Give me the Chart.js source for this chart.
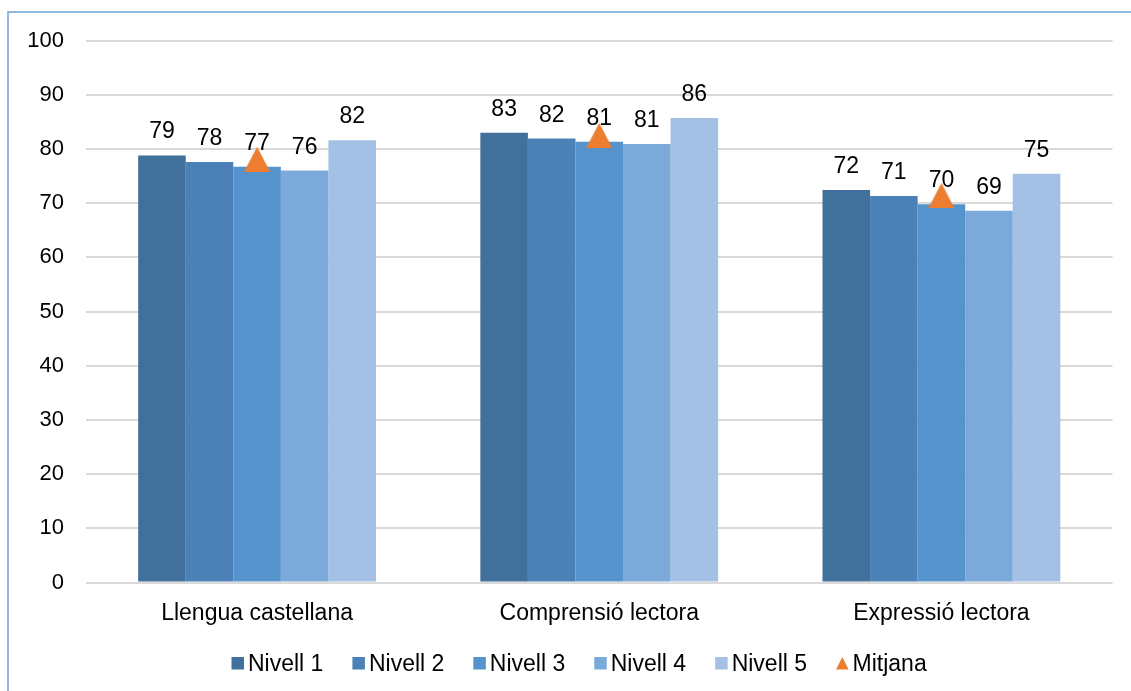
<!DOCTYPE html>
<html>
<head>
<meta charset="utf-8">
<script src="https://cdn.jsdelivr.net/npm/chart.js@4/dist/chart.umd.min.js"></script>
<style>
  html, body { margin: 0; padding: 0; background: #ffffff; overflow: hidden; }
  canvas { display: block; }
</style>
</head>
<body>
<canvas id="chart" width="1131" height="691"></canvas>
<script>
// Categories (competències avaluades)
const categories = ['Llengua castellana', 'Comprensió lectora', 'Expressió lectora'];

// Puntuació mitjana per nivell
const nivell1 = [78.8, 83.0, 72.4];
const nivell2 = [77.6, 81.9, 71.3];
const nivell3 = [76.7, 81.3, 69.8];
const nivell4 = [76.0, 80.9, 68.6];
const nivell5 = [81.6, 85.7, 75.4];

// Mitjana global de cada competència
const mitjana = [78.1, 82.5, 71.4];

// Eix Y
const yMin = 0;
const yMax = 100;
const yStep = 10;

const seriesNames = ['Nivell 1', 'Nivell 2', 'Nivell 3', 'Nivell 4', 'Nivell 5', 'Mitjana'];
const barColors = ['#41709C', '#4C81B7', '#5593CC', '#7BA9DA', '#A4C0E4'];
const markerColor = '#ED7D31';
const FONT = '"Liberation Sans", Arial, Helvetica, sans-serif';

// Triangle marker whose bounding box is centred on the data point
function triangleCanvas(w, h, color) {
  const c = document.createElement('canvas');
  c.width = w; c.height = h;
  const g = c.getContext('2d');
  g.fillStyle = color;
  g.beginPath();
  g.moveTo(w / 2, 0);
  g.lineTo(w, h);
  g.lineTo(0, h);
  g.closePath();
  g.fill();
  return c;
}
const bigTriangle = triangleCanvas(26, 25, markerColor);

// Frame around the figure (only its top and left edges fall on the canvas)
const framePlugin = {
  id: 'frame',
  beforeDraw(chart) {
    const ctx = chart.ctx;
    ctx.save();
    ctx.strokeStyle = '#6FA3D9';
    ctx.lineWidth = 1.5;
    ctx.strokeRect(8, 12, 3000, 3000);
    ctx.restore();
  }
};

// Value printed above every bar
const valueLabels = {
  id: 'valueLabels',
  afterDatasetDraw(chart, args) {
    const ds = chart.data.datasets[args.index];
    if (ds.type !== 'bar') return;
    const ctx = chart.ctx;
    ctx.save();
    ctx.font = '23px ' + FONT;
    ctx.fillStyle = '#000000';
    ctx.textAlign = 'center';
    ctx.textBaseline = 'alphabetic';
    args.meta.data.forEach((bar, j) => {
      ctx.fillText(String(Math.round(ds.data[j])), bar.x, bar.y - 17);
    });
    ctx.restore();
  }
};

// Legend row under the axis
const legendRow = {
  id: 'legendRow',
  afterDraw(chart) {
    const ctx = chart.ctx;
    const size = 12.5, top = 657, baseline = 670.5;
    let x = 231.5;
    ctx.save();
    ctx.font = '23px ' + FONT;
    ctx.textAlign = 'left';
    ctx.textBaseline = 'alphabetic';
    chart.data.datasets.forEach((ds) => {
      ctx.fillStyle = ds.backgroundColor;
      if (ds.type === 'bar') {
        ctx.fillRect(x, top, size, size);
      } else {
        ctx.beginPath();
        ctx.moveTo(x + size / 2, top);
        ctx.lineTo(x + size, top + size);
        ctx.lineTo(x, top + size);
        ctx.closePath();
        ctx.fill();
      }
      x += size + 4;
      ctx.fillStyle = '#000000';
      ctx.fillText(ds.label, x, baseline);
      x += ctx.measureText(ds.label).width + 29;
    });
    ctx.restore();
  }
};

const barSeries = [nivell1, nivell2, nivell3, nivell4, nivell5];
const datasets = barSeries.map((values, i) => ({
  type: 'bar',
  label: seriesNames[i],
  data: values,
  backgroundColor: barColors[i],
  borderWidth: 0,
  order: 1,
  categoryPercentage: 0.695,
  barPercentage: 1.0
}));
datasets.push({
  type: 'line',
  label: seriesNames[5],
  data: mitjana,
  showLine: false,
  backgroundColor: markerColor,
  borderColor: markerColor,
  pointStyle: bigTriangle,
  pointRadius: 13,
  pointHoverRadius: 13,
  order: 0
});

new Chart(document.getElementById('chart'), {
  type: 'bar',
  data: { labels: categories, datasets: datasets },
  plugins: [framePlugin, valueLabels, legendRow],
  options: {
    responsive: false,
    animation: false,
    events: [],
    layout: { padding: { top: 40.5, left: 0, right: 18.5, bottom: 0 } },
    plugins: {
      legend: { display: false },
      tooltip: { enabled: false }
    },
    scales: {
      x: {
        grid: { display: false },
        border: { display: false },
        ticks: {
          color: '#000000',
          font: { family: FONT, size: 23 },
          padding: 9
        },
        afterFit(scale) { scale.height = 108.5; }
      },
      y: {
        min: yMin,
        max: yMax,
        grid: { color: '#D9D9D9', lineWidth: 2, drawTicks: false },
        border: { display: false },
        ticks: {
          stepSize: yStep,
          color: '#000000',
          font: { family: FONT, size: 22 },
          padding: 22
        },
        afterFit(scale) { scale.width = 86; }
      }
    }
  }
});
</script>
</body>
</html>
